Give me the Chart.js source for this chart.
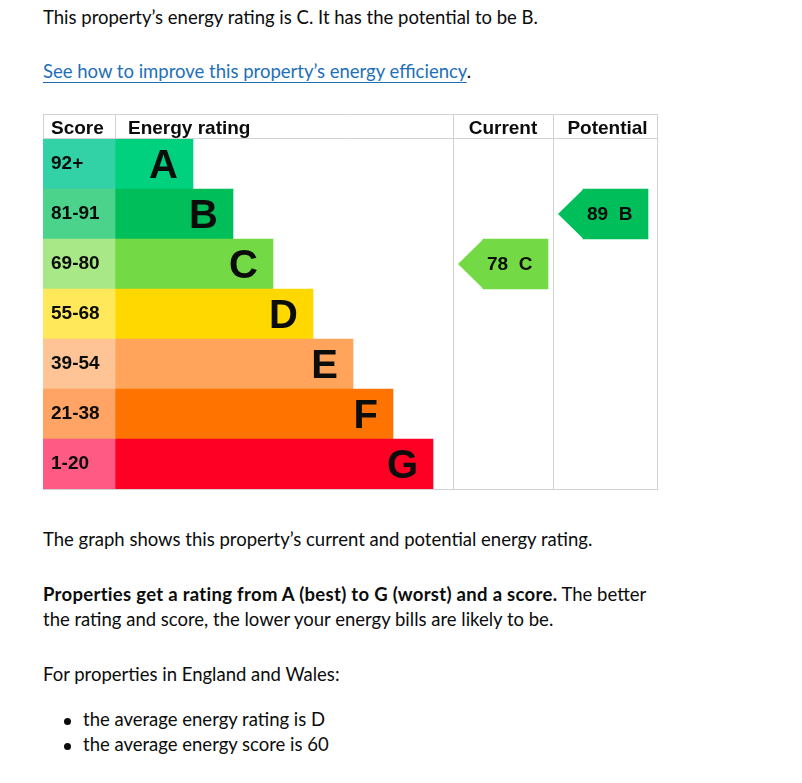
<!DOCTYPE html>
<html>
<head>
<meta charset="utf-8">
<script src="https://cdn.jsdelivr.net/npm/chart.js@4.4.0/dist/chart.umd.min.js"></script>
<style>
  html, body { margin: 0; padding: 0; background: #fff; }
  body { width: 802px; height: 783px; position: relative; overflow: hidden;
         font-family: Lato, "Noto Sans", sans-serif; font-size: 18.5px; line-height: 25px; color: #0b0c0c; }
  .t { position: absolute; left: 43px; margin: 0; white-space: nowrap; }
  .t a { color: #1d70b8; text-decoration: underline; text-decoration-thickness: 1px; text-underline-offset: 3.5px; }
  .t strong { font-weight: 700; letter-spacing: 0.3px; }
  .li { position: absolute; left: 83px; margin: 0; white-space: nowrap; }
  .li::before { content: ""; position: absolute; left: -19px; top: 11px; width: 7px; height: 7px;
                border-radius: 50%; background: #0b0c0c; }
  #wrap { position: absolute; left: 43px; top: 114px; width: 616px; height: 377px; }
</style>
</head>
<body>
<p class="t" style="top:5px">This property’s energy rating is C. It has the potential to be B.</p>
<p class="t" style="top:59px"><a href="#">See how to improve this property’s energy efficiency</a>.</p>

<div id="wrap"><canvas id="epc"></canvas></div>

<p class="t" style="top:527px">The graph shows this property’s current and potential energy rating.</p>
<p class="t" style="top:582px"><strong>Properties get a rating from A (best) to G (worst) and a score.</strong> The better<br>the rating and score, the lower your energy bills are likely to be.</p>
<p class="t" style="top:662px">For properties in England and Wales:</p>
<p class="li" style="top:707px">the average energy rating is D</p>
<p class="li" style="top:732px">the average energy score is 60</p>

<script>
// ---------- data ----------
const bands        = ['A', 'B', 'C', 'D', 'E', 'F', 'G'];
const scoreRanges  = ['92+', '81-91', '69-80', '55-68', '39-54', '21-38', '1-20'];
const bandFloor    = [92, 81, 69, 55, 39, 21, 1];
const bandBarEnd   = [150, 190, 230, 270, 310, 350, 390];   // bar length on the chart's x units
const currentScore   = 78;
const potentialScore = 89;

// ---------- look ----------
const scoreColours = ['#33d1a6', '#4cd38b', '#a8e886', '#ffe85a', '#ffc495', '#ffa464', '#ff5a83'];
const bandColours  = ['#00d17f', '#00bf5a', '#73da45', '#ffd800', '#ffa45a', '#ff7400', '#ff0025'];
const LINE = '#d2d2d2';
const INK  = '#0b0c0c';
const SANS = '"Liberation Sans", Arial, sans-serif';

// column layout in x units (1 unit = 1px here)
const SCORE_END = 72;
const CURRENT   = [410, 510];
const POTENTIAL = [510, 615];
const ARROW_W = 90, TIP = 25;

function bandOf(score) { return bandFloor.findIndex(f => score >= f); }
function arrowData(score, col) {
  const idx = bandOf(score);
  return bands.map((b, i) => i === idx ? [col[0] + 5 + TIP, col[0] + 5 + ARROW_W] : null);
}

const barBase = { grouped: false, barPercentage: 1, categoryPercentage: 1, borderWidth: 0 };

// ---------- plugin: grid lines, arrow tips, labels ----------
const epcDecor = {
  id: 'epcDecor',
  afterDatasetsDraw(chart) {
    const ctx = chart.ctx;
    const xs = chart.scales.x;
    const top = 0, head = chart.chartArea.top, bottom = chart.chartArea.bottom;
    const px = v => xs.getPixelForValue(v);

    // arrow tips + score text
    [[2, currentScore], [3, potentialScore]].forEach(([di, score]) => {
      const meta = chart.getDatasetMeta(di);
      meta.data.forEach((el, i) => {
        if (!chart.data.datasets[di].data[i]) return;
        const p = el.getProps(['x', 'y', 'base', 'height'], true);
        const left = Math.min(p.x, p.base);
        ctx.save();
        ctx.fillStyle = bandColours[i];
        ctx.beginPath();
        ctx.moveTo(left + 0.5, p.y - p.height / 2);
        ctx.lineTo(left - TIP, p.y);
        ctx.lineTo(left + 0.5, p.y + p.height / 2);
        ctx.closePath();
        ctx.fill();
        ctx.fillStyle = INK;
        ctx.font = 'bold 19px ' + SANS;
        ctx.textBaseline = 'alphabetic';
        ctx.textAlign = 'left';
        ctx.fillText(score + '  ' + bands[i], left + 4, p.y + 5.5);
        ctx.restore();
      });
    });

    // band letters and score ranges
    ctx.save();
    ctx.fillStyle = INK;
    chart.getDatasetMeta(1).data.forEach((el, i) => {
      const p = el.getProps(['x', 'y'], true);
      ctx.font = 'bold 40px ' + SANS;
      ctx.textAlign = 'right';
      ctx.textBaseline = 'alphabetic';
      ctx.fillText(bands[i], p.x - 15, p.y + 14);
      ctx.font = 'bold 19px ' + SANS;
      ctx.textAlign = 'left';
      ctx.fillText(scoreRanges[i], px(0) + 8, p.y + 5);
    });

    // header
    ctx.font = 'bold 19px ' + SANS;
    ctx.textAlign = 'left';
    ctx.fillText('Score', px(0) + 8, 20);
    ctx.fillText('Energy rating', px(SCORE_END) + 13, 20);
    ctx.textAlign = 'center';
    ctx.fillText('Current', (px(CURRENT[0]) + px(CURRENT[1])) / 2, 20);
    ctx.fillText('Potential', (px(POTENTIAL[0]) + px(POTENTIAL[1])) / 2 + 2, 20);

    // grid
    ctx.strokeStyle = LINE;
    ctx.lineWidth = 1;
    ctx.beginPath();
    ctx.moveTo(0, top + 0.5); ctx.lineTo(px(POTENTIAL[1]), top + 0.5);
    ctx.moveTo(0, head - 0.5); ctx.lineTo(px(POTENTIAL[1]), head - 0.5);
    ctx.moveTo(0, bottom + 0.5); ctx.lineTo(px(POTENTIAL[1]), bottom + 0.5);
    ctx.moveTo(px(0) + 0.5, top); ctx.lineTo(px(0) + 0.5, head);
    ctx.moveTo(px(SCORE_END) + 0.5, top); ctx.lineTo(px(SCORE_END) + 0.5, head);
    [CURRENT[0], POTENTIAL[0]].forEach(v => {
      ctx.moveTo(px(v) + 0.5, top); ctx.lineTo(px(v) + 0.5, bottom + 1);
    });
    ctx.moveTo(px(POTENTIAL[1]) - 0.5, top); ctx.lineTo(px(POTENTIAL[1]) - 0.5, bottom + 1);
    ctx.stroke();
    ctx.restore();
  }
};

new Chart(document.getElementById('epc'), {
  type: 'bar',
  data: {
    labels: bands,
    datasets: [
      { ...barBase, label: 'Score', data: bands.map(() => [0, SCORE_END]), backgroundColor: scoreColours },
      { ...barBase, label: 'Energy rating', data: bandBarEnd.map(e => [SCORE_END, e]), backgroundColor: bandColours },
      { ...barBase, label: 'Current', data: arrowData(currentScore, CURRENT), backgroundColor: bandColours },
      { ...barBase, label: 'Potential', data: arrowData(potentialScore, POTENTIAL), backgroundColor: bandColours }
    ]
  },
  options: {
    indexAxis: 'y',
    responsive: true,
    maintainAspectRatio: false,
    animation: false,
    layout: { padding: { top: 25, left: 0, right: 1, bottom: 2 } },
    scales: {
      x: { type: 'linear', min: 0, max: 615, display: false },
      y: { type: 'category', display: false }
    },
    plugins: { legend: { display: false }, tooltip: { enabled: false } }
  },
  plugins: [epcDecor]
});
</script>
</body>
</html>
